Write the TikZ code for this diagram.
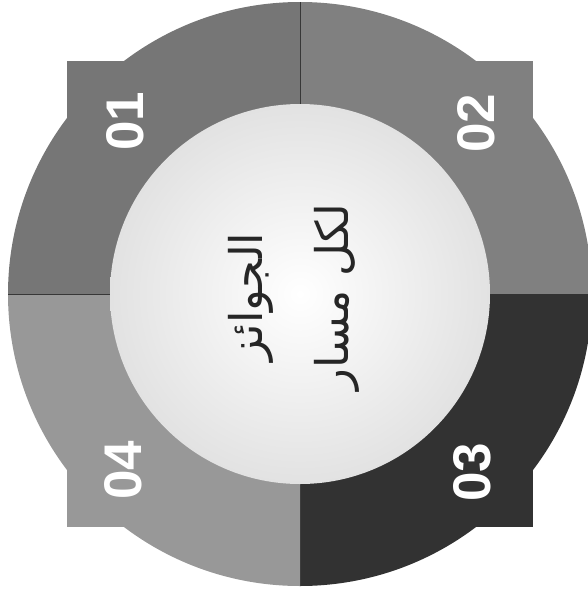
\documentclass[tikz,border=0pt]{standalone}
\usepackage{fontspec}
\usetikzlibrary{positioning, calc}
\newfontfamily\labelfont{Liberation Sans}
\newfontfamily\arabicfont[Script=Arabic]{DejaVu Sans}
\TeXXeTstate=1
\definecolor{ringOne}{RGB}{118, 118, 118}
\definecolor{ringTwo}{RGB}{128, 128, 128}
\definecolor{ringThree}{RGB}{50, 50, 50}
\definecolor{ringFour}{RGB}{152, 152, 152}
\definecolor{ringLine}{RGB}{55, 55, 55}
\definecolor{hubEdge}{RGB}{226, 226, 226}

\begin{document}
\begin{tikzpicture}[
    x=1pt, y=-1pt,
    num/.style={
        font=\labelfont\bfseries\fontsize{53}{60}\selectfont,
        text=white,
        rotate=90,
        inner sep=0pt
    },
    title/.style={
        font=\arabicfont\fontsize{45}{86}\selectfont,
        text=black!85,
        rotate=90,
        align=center,
        inner sep=0pt
    },
    hubdisk/.style={
        circle,
        minimum size=380pt,
        inner color=white,
        outer color=hubEdge
    },
    divider/.style={
        draw=ringLine,
        line width=1pt
    }
]
\useasboundingbox (0,0) rectangle (588,598);
\coordinate (c) at (300,294);

% 1. Ring quadrants with corner tabs
\foreach \sx/\sy/\col in {-1/-1/ringOne, 1/-1/ringTwo, 1/1/ringThree, -1/1/ringFour} {
    \begin{scope}
        \clip (c) rectangle ($(c)+(\sx*300,\sy*300)$);
        \fill[\col] (c) circle[radius=292pt];
        \fill[\col] (c) rectangle ($(c)+(\sx*233,\sy*233)$);
    \end{scope}
}
\draw[divider] (c) -- ++(0,-292);
\draw[divider] (c) -- ++(-292,0);

% 2. Hub
\node[hubdisk] (hub) at (c) {};
\node[title] (awards) at ($(hub)+(-6,3)$) {\beginR الجوائز\endR\\\beginR لكل مسار\endR};

% 3. Quadrant numbers
\node[num] (q1) at ($(c)+(-175,-173)$) {01};
\node[num] (q2) at ($(c)+(176,-171)$) {02};
\node[num] (q3) at ($(c)+(172,178)$) {03};
\node[num] (q4) at ($(c)+(-177,176)$) {04};

\end{tikzpicture}
\end{document}
